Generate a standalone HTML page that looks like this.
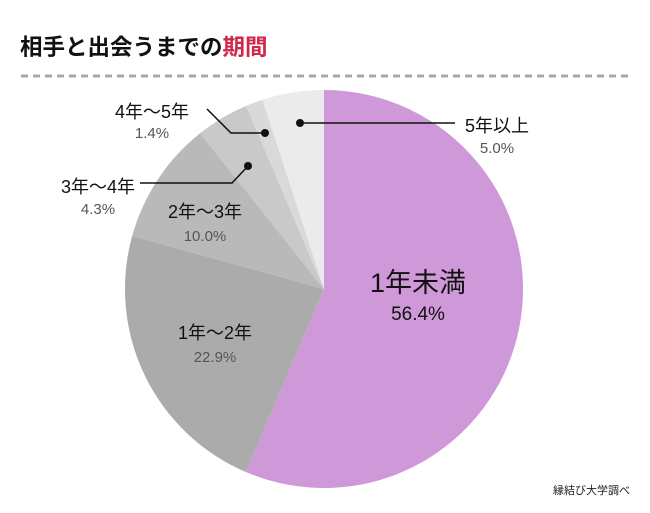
<!DOCTYPE html>
<html><head><meta charset="utf-8"><style>
body{margin:0;background:#fff;width:650px;height:513px;overflow:hidden}
svg{display:block}
text{font-family:"Liberation Sans","Noto Sans CJK JP",sans-serif}
</style></head><body>
<svg width="650" height="513" viewBox="0 0 650 513">
<text x="20" y="55" font-size="22.5" font-weight="bold" fill="#111" font-family="'Noto Sans CJK JP',sans-serif">相手と出会うまでの<tspan fill="#d0284c">期間</tspan></text>
<line x1="21" y1="76" x2="628" y2="76" stroke="#a8a8a8" stroke-width="3" stroke-dasharray="7,5"/>
<g stroke="none">
<path d="M324,289 L324,90 A199,199 0 1 1 246.1,472.1 Z" fill="#cf98d8"/>
<path d="M324,289 L246.1,472.1 A199,199 0 0 1 132.2,235.9 Z" fill="#ababab"/>
<path d="M324,289 L132.2,235.9 A199,199 0 0 1 200.1,133.3 Z" fill="#b9b9b9"/>
<path d="M324,289 L200.1,133.3 A199,199 0 0 1 246.1,105.9 Z" fill="#c9c9c9"/>
<path d="M324,289 L246.1,105.9 A199,199 0 0 1 262.5,99.7 Z" fill="#d9d9d9"/>
<path d="M324,289 L262.5,99.7 A199,199 0 0 1 324,90 Z" fill="#ebebeb"/>
</g>
<g stroke="#111" stroke-width="1.5" fill="none">
<polyline points="140,183 232,183 248,166"/>
<polyline points="207,109 231,133 265,133"/>
<polyline points="300,123 455,123"/>
</g>
<g fill="#111"><circle cx="248" cy="166" r="4"/><circle cx="265" cy="133" r="4"/><circle cx="300" cy="123" r="4"/></g>
<g text-anchor="middle" fill="#111">
<text x="418" y="292" font-size="27">1年未満</text>
<text x="418" y="320" font-size="19">56.4%</text>
<text x="215" y="339" font-size="18">1年〜2年</text>
<text x="215" y="362" font-size="15" fill="#555">22.9%</text>
<text x="205" y="218" font-size="18">2年〜3年</text>
<text x="205" y="241" font-size="15" fill="#555">10.0%</text>
<text x="98" y="193" font-size="18">3年〜4年</text>
<text x="98" y="214" font-size="15" fill="#555">4.3%</text>
<text x="152" y="118" font-size="18">4年〜5年</text>
<text x="152" y="138" font-size="15" fill="#555">1.4%</text>
<text x="497" y="132" font-size="18">5年以上</text>
<text x="497" y="153" font-size="15" fill="#555">5.0%</text>
</g>
<text x="630" y="494" font-size="11" text-anchor="end" fill="#222" font-family="'Noto Sans CJK JP',sans-serif">縁結び大学調べ</text>
</svg>
</body></html>
